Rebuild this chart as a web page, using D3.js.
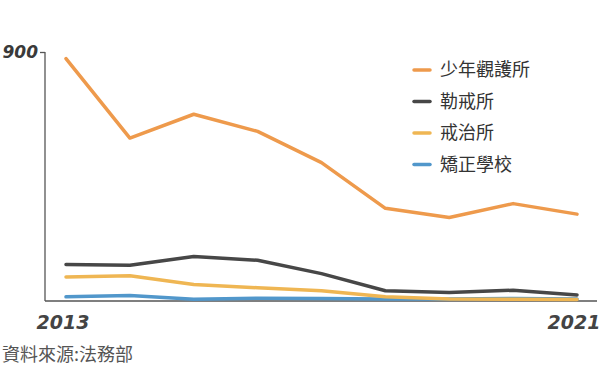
<!DOCTYPE html>
<html><head><meta charset="utf-8">
<script src="https://cdn.jsdelivr.net/npm/d3@7/dist/d3.min.js"></script>
<style>
html,body{margin:0;padding:0;background:#fff;}
svg{display:block;}
</style></head>
<body>
<script>
const years = [2013,2014,2015,2016,2017,2018,2019,2020,2021];
const seriesNames = ["少年觀護所","勒戒所","戒治所","矯正學校"];
const juvenileDetention = [876,589,675,613,500,335,302,352,314];
const rehabCenter = [132,129,161,147,99,37,31,39,22];
const treatmentCenter = [87,91,60,48,37,15,7,6,5];
const correctionalSchool = [15,20,6,10,9,7,7,9,7];
const colors = ["#ee9a4c","#474747","#efb653","#5197cb"];
const yTicks = [900];
const xTickLabels = [2013,2021];
const sourceText = "資料來源:法務部";

const W=601,H=365;
const svg=d3.select("body").append("svg").attr("width",W).attr("height",H);

const x=d3.scaleLinear().domain([2013,2021]).range([66,577]);
const y=d3.scaleLinear().domain([0,900]).range([301,52]);
const handFont="'DejaVu Sans', sans-serif";

// axes
const ax=svg.append("g");
const yAxis=d3.axisLeft(y).tickValues(yTicks).tickSize(5).tickSizeOuter(0).tickFormat(d3.format("d"));
const yg=ax.append("g").attr("transform","translate(45,0)").call(yAxis);
yg.select(".domain").attr("d",`M0,${y(900)}V301`).attr("stroke","#555").attr("stroke-width",1.3);
yg.selectAll(".tick line").attr("stroke","#555").attr("stroke-width",1.3);
yg.selectAll(".tick text").remove();
svg.selectAll(".yl").data(yTicks).enter().append("text")
  .attr("x",38).attr("y",d=>y(d)).attr("dy","0.35em").attr("text-anchor","end")
  .attr("font-family",handFont).attr("font-style","italic").attr("font-weight","600").attr("font-size",17).attr("fill","#3a3a3a")
  .text(d=>d);
ax.append("line").attr("x1",45).attr("x2",597).attr("y1",301).attr("y2",301)
  .attr("stroke","#555").attr("stroke-width",1.3);

// x labels
svg.selectAll(".xl").data(xTickLabels).enter().append("text")
  .attr("x",d=>x(d)).attr("dx",-3).attr("y",329).attr("text-anchor","middle")
  .attr("font-family",handFont).attr("font-style","italic").attr("font-weight","600").attr("font-size",19).attr("fill","#444")
  .text(d=>d);

// lines
const data=[juvenileDetention,rehabCenter,treatmentCenter,correctionalSchool];
const line=d3.line().x((d,i)=>x(years[i])).y(d=>y(d));
const lg=svg.append("g");
data.slice().reverse().forEach((s,ri)=>{
  const i=data.length-1-ri;
  lg.append("path").attr("d",line(s)).attr("fill","none").attr("stroke",colors[i])
    .attr("stroke-width",3.5).attr("stroke-linecap","round").attr("stroke-linejoin","round");
});

// legend
const leg=svg.append("g");
seriesNames.forEach((n,i)=>{
  const yy=70+i*31.5;
  leg.append("line").attr("x1",414).attr("x2",430).attr("y1",yy).attr("y2",yy)
    .attr("stroke",colors[i]).attr("stroke-width",3.5).attr("stroke-linecap","round");
  leg.append("text").attr("x",440).attr("y",yy).attr("dy","0.35em")
    .attr("font-family","'Noto Sans CJK TC', sans-serif").attr("font-size",18).attr("fill","#333").text(n);
});

svg.append("text").attr("x",2).attr("y",355).attr("dy","0.35em")
  .attr("font-family","'Noto Sans CJK TC', sans-serif").attr("font-size",18).attr("fill","#555").text(sourceText);
</script>
</body></html>
